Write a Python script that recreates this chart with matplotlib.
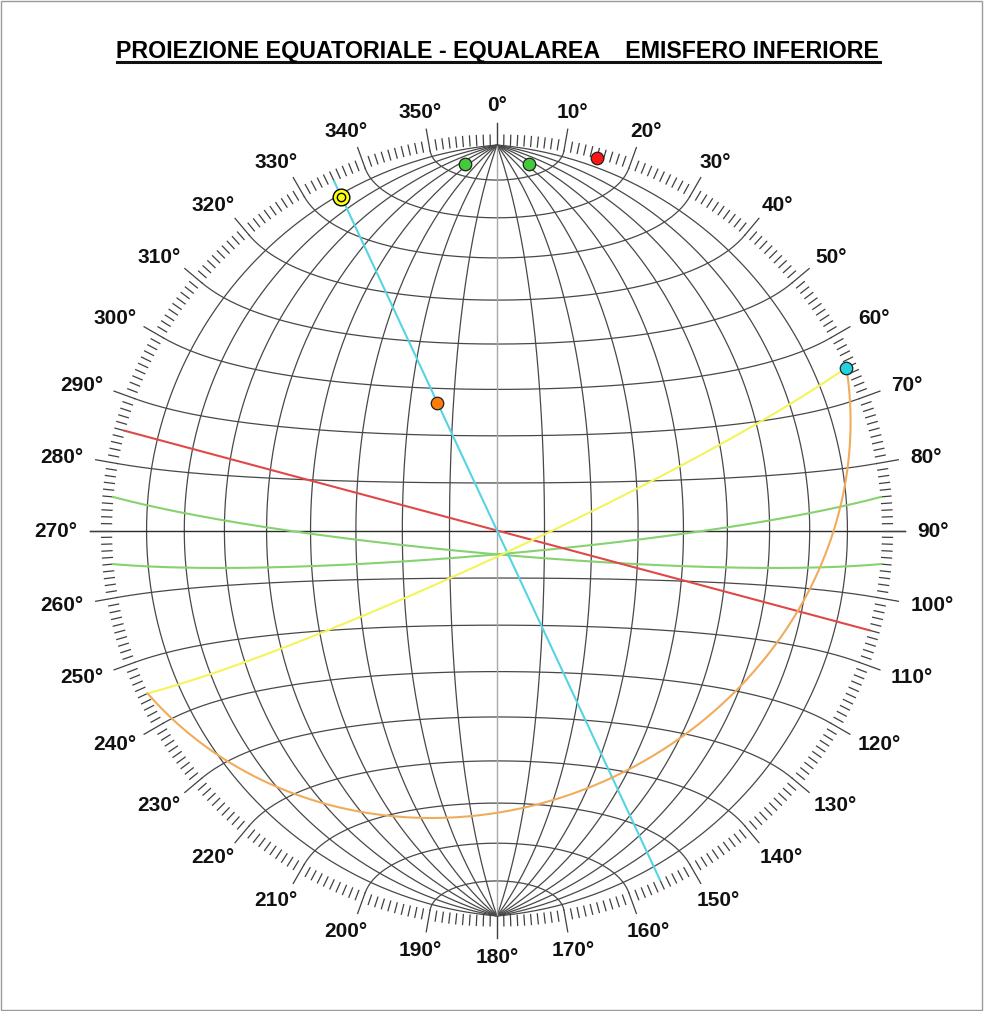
import numpy as np
import matplotlib
matplotlib.use('Agg')
import matplotlib.pyplot as plt
import matplotlib.font_manager as fm
from matplotlib.patches import Rectangle

# piani: direzione di immersione / inclinazione (gradi)
plane_dipdir = [175, 185, 195, 245, 155, 155]
plane_dip = [85, 85, 90, 90, 85, 30]
plane_colors = ['#86d270', '#86d270', '#e04848', '#55d4e4', '#f4f45a', '#f0ac5c']

# poli: direzione / immersione (gradi)
pole_trend = [355, 5, 15, 65, 335, 335]
pole_plunge = [5, 5, 0, 0, 5, 60]
pole_colors = ['#44c83c', '#44c83c', '#ff1414', '#22d2e2', '#ffff10', '#ff7c0a']
pole_ring = [False, False, False, False, True, False]

label_angles = list(range(0, 360, 10))
grid_angles = list(range(10, 90, 10))
title = 'PROIEZIONE EQUATORIALE - EQUALAREA    EMISFERO INFERIORE'

W, H = 984, 1012
CX, CY, R = 497, 531.5, 385.5

available = {f.name for f in fm.fontManager.ttflist}
title_font = 'Liberation Sans Narrow' if 'Liberation Sans Narrow' in available else 'Liberation Sans'
plt.rcParams['font.family'] = ['Liberation Sans', 'DejaVu Sans']


def proj(e, n, d):
    """Schmidt (equal-area), emisfero inferiore, cerchio primitivo di raggio 1"""
    k = 1.0 / np.sqrt(1.0 + d)
    return e * k, n * k


def plane_curve(dd, dip, num=361):
    a = np.radians(np.linspace(0, 180, num))
    ddr, dr = np.radians(dd), np.radians(dip)
    s = np.array([np.sin(ddr - np.pi / 2), np.cos(ddr - np.pi / 2), 0.0])
    dv = np.array([np.sin(ddr) * np.cos(dr), np.cos(ddr) * np.cos(dr), np.sin(dr)])
    v = np.outer(np.cos(a), s) + np.outer(np.sin(a), dv)
    return proj(v[:, 0], v[:, 1], v[:, 2])


def small_circle_ns(alpha, num=361):
    """cono attorno all'asse N-S, semiapertura alpha dal Nord"""
    phi = np.radians(np.linspace(0, 180, num))
    al = np.radians(alpha)
    e = np.sin(al) * np.cos(phi)
    n = np.full_like(phi, np.cos(al))
    d = np.sin(al) * np.sin(phi)
    return proj(e, n, d)


def line_point(trend, plunge):
    t, p = np.radians(trend), np.radians(plunge)
    return proj(np.sin(t) * np.cos(p), np.cos(t) * np.cos(p), np.sin(p))


fig = plt.figure(figsize=(W / 100, H / 100), dpi=100)
ax = fig.add_axes([0, 0, 1, 1])
ax.set_xlim(-CX / R, (W - CX) / R)
ax.set_ylim(-(H - CY) / R, CY / R)
ax.set_aspect('equal')
ax.axis('off')

fig.patches.append(Rectangle((0.001, 0.001), 0.997, 0.997, transform=fig.transFigure,
                             fill=False, edgecolor='#9a9a9a', linewidth=1.0))

grid_kw = dict(color='#484848', linewidth=0.9, zorder=1)

# meridiani (piani N-S) e paralleli (coni attorno all'asse N-S)
for g in grid_angles:
    for dd in (90, 270):
        x, y = plane_curve(dd, g)
        ax.plot(x, y, **grid_kw)
    for a in (g, 180 - g):
        x, y = small_circle_ns(a)
        ax.plot(x, y, **grid_kw)

ext = 1 + 22 / R
ax.plot([0, 0], [-ext, ext], color='#a8a8a8', linewidth=1.0, zorder=1)
ax.plot([-ext, ext], [0, 0], color='#2a2a2a', linewidth=1.0, zorder=1)

# tacche sul cerchio primitivo
for deg in range(360):
    L = 22 if deg % 10 == 0 else 10
    t = np.radians(deg)
    ax.plot([np.sin(t), (1 + L / R) * np.sin(t)], [np.cos(t), (1 + L / R) * np.cos(t)],
            color='#404040', linewidth=0.9, zorder=1)

# ciclografiche
for dd, dip, c in zip(plane_dipdir, plane_dip, plane_colors):
    x, y = plane_curve(dd, dip)
    ax.plot(x, y, color=c, linewidth=1.5, zorder=3)

# poli
for tr, pl, c, ring in zip(pole_trend, pole_plunge, pole_colors, pole_ring):
    x, y = line_point(tr, pl)
    if ring:
        ax.plot(x, y, 'o', ms=12, mfc=c, mec='black', mew=1.0, zorder=5)
        ax.plot(x, y, 'o', ms=6, mfc=c, mec='black', mew=1.0, zorder=6)
    else:
        ax.plot(x, y, 'o', ms=9, mfc=c, mec='#202020', mew=0.9, zorder=5)

# etichette azimutali
labels = []
for a in label_angles:
    labels.append(ax.text(0, 0, f'{a}°', fontsize=15, fontweight='bold',
                          ha='center', va='center', color='#111111'))

fig.canvas.draw()
renderer = fig.canvas.get_renderer()
for a, txt in zip(label_angles, labels):
    bb = txt.get_window_extent(renderer)
    t = np.radians(a)
    # scostamento orizzontale di mezza larghezza, verticale di mezza altezza
    x_px = (420 + 0.5 * bb.width) * np.sin(t)
    y_px = (418 + 0.4 * bb.height) * np.cos(t)
    txt.set_position((x_px / R, y_px / R))

# titolo sottolineato
ttl = fig.text(498 / W, 1 - 58.5 / H, title, fontsize=15, family=title_font,
               fontweight='bold', ha='center', va='baseline', color='black')
fig.canvas.draw()
bb = ttl.get_window_extent(renderer)
ttl.set_fontsize(15 * 763 / bb.width)
fig.canvas.draw()
bb = ttl.get_window_extent(renderer)
fig.add_artist(plt.Line2D([bb.x0 / W, bb.x1 / W], [1 - 63 / H, 1 - 63 / H],
                          transform=fig.transFigure, color='#111111', linewidth=2.2))

fig.savefig('out.png', dpi=100)
